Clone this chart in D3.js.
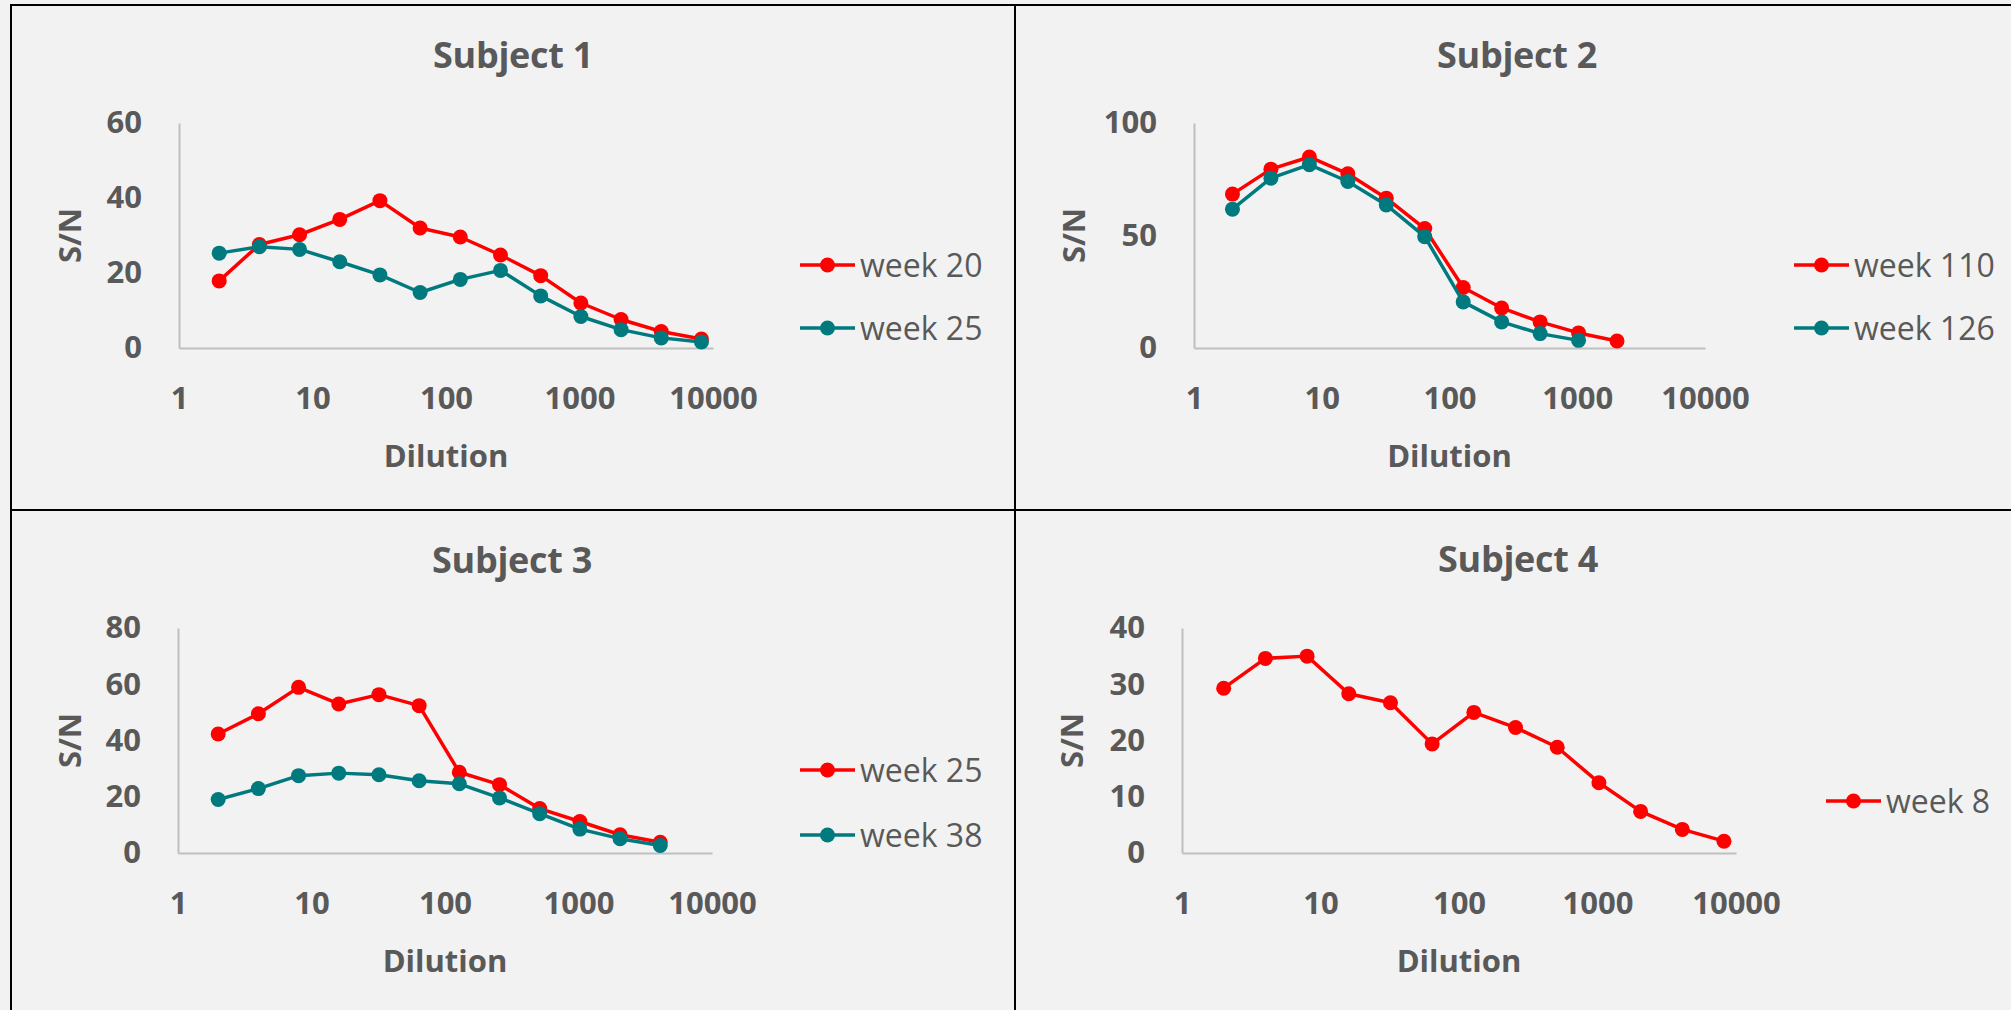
<!DOCTYPE html>
<html>
<head>
<meta charset="utf-8">
<script src="https://cdn.jsdelivr.net/npm/d3@7"></script>
<style>
  html, body { margin: 0; padding: 0; background: #F2F2F2; }
  svg { display: block; }
  text { font-family: "Open Sans", "DejaVu Sans", sans-serif; fill: #595959; }
</style>
</head>
<body>
<svg id="chart" width="2011" height="1010"></svg>
<script>
// ---------- DATA ----------
const dilutions = [2, 4, 8, 16, 32, 64, 128, 256, 512, 1024, 2048, 4096, 8192];
const xTickValues = [1, 10, 100, 1000, 10000];

const subject1Title = "Subject 1";
const subject1Week20 = [17.9, 27.6, 30.2, 34.3, 39.3, 32.0, 29.6, 24.8, 19.3, 12.0, 7.6, 4.4, 2.4];
const subject1Week25 = [25.3, 27.0, 26.3, 23.0, 19.5, 14.8, 18.3, 20.7, 13.9, 8.4, 4.9, 2.7, 1.6];
const subject1YTicks = [0, 20, 40, 60];

const subject2Title = "Subject 2";
const subject2Week110 = [68.4, 79.5, 84.9, 77.4, 66.6, 53.1, 26.9, 17.8, 11.6, 6.7, 3.1];
const subject2Week126 = [61.7, 75.5, 81.5, 74.0, 63.6, 49.5, 20.5, 11.6, 6.4, 3.4];
const subject2YTicks = [0, 50, 100];

const subject3Title = "Subject 3";
const subject3Week25 = [42.3, 49.5, 58.9, 53.0, 56.3, 52.4, 28.7, 24.3, 15.8, 11.2, 6.5, 3.8];
const subject3Week38 = [19.0, 22.9, 27.5, 28.4, 27.8, 25.7, 24.6, 19.6, 14.0, 8.5, 5.1, 2.7];
const subject3YTicks = [0, 20, 40, 60, 80];

const subject4Title = "Subject 4";
const subject4Week8 = [29.3, 34.6, 35.0, 28.3, 26.7, 19.4, 25.0, 22.3, 18.8, 12.5, 7.4, 4.2, 2.1];
const subject4YTicks = [0, 10, 20, 30, 40];

const xAxisTitle = "Dilution";
const yAxisTitle = "S/N";

// ---------- STYLE / LAYOUT ----------
const RED = "#FF0000";
const TEAL = "#007A7F";

const panels = [
  { title: subject1Title, yTicks: subject1YTicks,
    series: [{ name: "week 20", values: subject1Week20, color: RED },
             { name: "week 25", values: subject1Week25, color: TEAL }],
    x0: 179, x1: 713, yTop: 123, yBot: 348, titleX: 513, titleY: 68, snX: 70,
    legX: 800, legY: [265, 328] },
  { title: subject2Title, yTicks: subject2YTicks,
    series: [{ name: "week 110", values: subject2Week110, color: RED },
             { name: "week 126", values: subject2Week126, color: TEAL }],
    x0: 1194, x1: 1705, yTop: 123, yBot: 348, titleX: 1517, titleY: 68, snX: 1074,
    legX: 1794, legY: [265, 328] },
  { title: subject3Title, yTicks: subject3YTicks,
    series: [{ name: "week 25", values: subject3Week25, color: RED },
             { name: "week 38", values: subject3Week38, color: TEAL }],
    x0: 178, x1: 712, yTop: 628, yBot: 853, titleX: 512, titleY: 573, snX: 70,
    legX: 800, legY: [770, 835] },
  { title: subject4Title, yTicks: subject4YTicks,
    series: [{ name: "week 8", values: subject4Week8, color: RED }],
    x0: 1182, x1: 1736, yTop: 628, yBot: 853, titleX: 1518, titleY: 572, snX: 1072,
    legX: 1826, legY: [801] }
];

const svg = d3.select("#chart");
svg.append("rect").attr("width", 2011).attr("height", 1010).attr("fill", "#F2F2F2");

panels.forEach(p => {
  const g = svg.append("g");
  const yMax = d3.max(p.yTicks);
  const x = d3.scaleLog().domain([1, 10000]).range([p.x0, p.x1]);
  const y = d3.scaleLinear().domain([0, yMax]).range([p.yBot, p.yTop]);

  // Title
  g.append("text").attr("x", p.titleX).attr("y", p.titleY)
    .attr("text-anchor", "middle").attr("font-size", 36).attr("font-weight", 700)
    .attr("letter-spacing", -0.3)
    .text(p.title);

  // Y axis
  const yAxis = g.append("g").attr("transform", `translate(${p.x0},0)`)
    .call(d3.axisLeft(y).tickValues(p.yTicks).tickFormat(d3.format("d"))
      .tickSize(0).tickSizeOuter(0).tickPadding(37));
  // X axis
  const xAxis = g.append("g").attr("transform", `translate(0,${p.yBot})`)
    .call(d3.axisBottom(x).tickValues(xTickValues).tickFormat(d3.format("d"))
      .tickSize(0).tickSizeOuter(0).tickPadding(39));

  [yAxis, xAxis].forEach(a => {
    a.select(".domain").attr("stroke", "#BFBFBF").attr("stroke-width", 2);
    a.selectAll("text").attr("font-size", 31).attr("font-weight", 700)
      .attr("fill", "#595959").attr("font-family", "'Open Sans', sans-serif");
  });

  // Axis titles
  g.append("text").attr("x", (p.x0 + p.x1) / 2).attr("y", p.yBot + 119)
    .attr("text-anchor", "middle").attr("font-size", 31).attr("font-weight", 700)
    .text(xAxisTitle);
  g.append("text")
    .attr("transform", `translate(${p.snX},${(p.yTop + p.yBot) / 2}) rotate(-90)`)
    .attr("text-anchor", "middle").attr("dy", "0.36em")
    .attr("font-size", 31).attr("font-weight", 700)
    .text(yAxisTitle);

  // Series
  const line = d3.line().x(d => x(d[0])).y(d => y(d[1]));
  p.series.forEach((s, si) => {
    const pts = s.values.map((v, i) => [dilutions[i], v]);
    g.append("path").datum(pts).attr("d", line)
      .attr("fill", "none").attr("stroke", s.color).attr("stroke-width", 3.5)
      .attr("stroke-linejoin", "round");
    g.selectAll(null).data(pts).enter().append("circle")
      .attr("cx", d => x(d[0])).attr("cy", d => y(d[1])).attr("r", 7.5)
      .attr("fill", s.color);

    // legend
    const ly = p.legY[si];
    g.append("line").attr("x1", p.legX).attr("x2", p.legX + 55)
      .attr("y1", ly).attr("y2", ly).attr("stroke", s.color).attr("stroke-width", 3.5);
    g.append("circle").attr("cx", p.legX + 27.5).attr("cy", ly).attr("r", 7.5).attr("fill", s.color);
    g.append("text").attr("x", p.legX + 60).attr("y", ly).attr("dy", "0.36em")
      .attr("font-size", 32).attr("font-weight", 400)
      .text(s.name);
  });
});

// Panel borders
const borders = svg.append("g").attr("stroke", "#000").attr("stroke-width", 2);
borders.append("line").attr("x1", 10).attr("x2", 2011).attr("y1", 5).attr("y2", 5);
borders.append("line").attr("x1", 11).attr("x2", 11).attr("y1", 4).attr("y2", 1010);
borders.append("line").attr("x1", 1015).attr("x2", 1015).attr("y1", 4).attr("y2", 1010);
borders.append("line").attr("x1", 10).attr("x2", 2011).attr("y1", 510).attr("y2", 510);
</script>
</body>
</html>
